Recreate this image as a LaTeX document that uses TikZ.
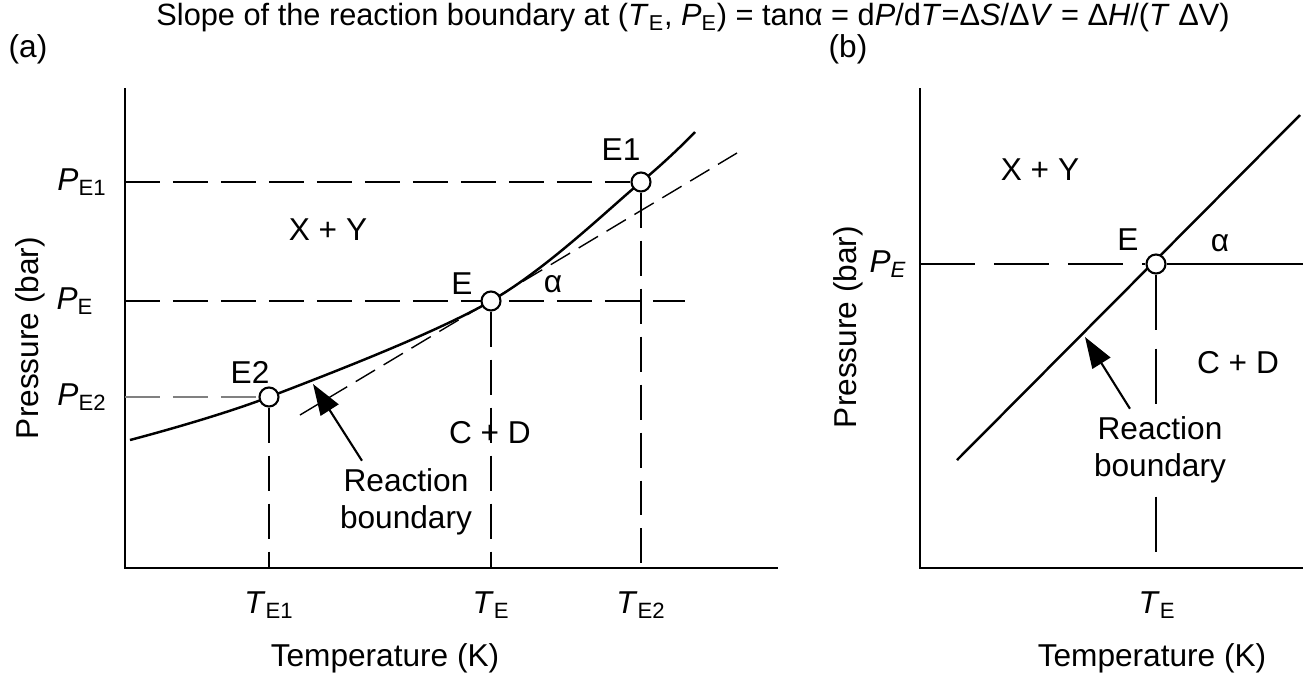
\documentclass[tikz,border=0pt]{standalone}
\usepackage{fontspec}
\setmainfont{Liberation Sans}
\usepackage{tikz}
\usetikzlibrary{arrows.meta,calc}

\begin{document}
\begin{tikzpicture}[
  x=0.02cm, y=-0.02cm,
  every node/.style={font=\fontsize{18}{21}\selectfont},
  axis/.style={line width=1.6pt},
  curve/.style={line width=1.4pt},
  guide/.style={line width=1.1pt, dash pattern=on 0.7cm off 0.26cm},
  guideB/.style={line width=1.1pt, dash pattern=on 1.1cm off 0.38cm},
  tangent/.style={line width=0.8pt, dash pattern=on 0.45cm off 0.2cm},
  pt/.style={circle, draw, fill=white, line width=1.2pt, minimum size=0.38cm,
    inner sep=0pt},
  pointer/.style={-{Triangle[length=0.62cm, width=0.42cm]}, line width=1.2pt},
]
  \useasboundingbox (0,0) rectangle (1303,674);
  % Title
  \node[inner sep=0pt, font=\fontsize{17.5}{20}\selectfont] (title) at (693,18)
    {Slope of the reaction boundary at
    (\textit{T}\textsubscript{E}, \textit{P}\textsubscript{E}) = tanα =
    d\textit{P}/d\textit{T}=Δ\textit{S}/Δ\textit{V} =
    Δ\textit{H}/(\textit{T} ΔV)};
  \node[inner sep=0pt] (lblA) at (28,49) {(a)};
  \node[inner sep=0pt] (lblB) at (848,49) {(b)};

  % Panel (a)
  \draw[axis] (125,88) -- (125,568) -- (778,568);
  \draw[tangent] (300,415) -- (737,153);
  \draw[guide] (125,301) -- (685,301);
  \draw[curve] plot[smooth, tension=0.55] coordinates
    {(130,440) (269,397) (491,301) (641,182) (695,132)};
  \node[pt] (E1) at (641,182) {};
  \node[pt] (E) at (491,301) {};
  \node[pt] (E2) at (269,397) {};
  \draw[guide] (125,182) -- (E1);
  \draw[guide, gray] (125,397) -- (E2);
  \draw[guide] (E1) -- (641,568);
  \draw[guide] (E) -- (491,568);
  \draw[guide] (E2) -- (269,568);
  \node at (621,150) {E1};
  \node at (462,284) {E};
  \node at (250,372) {E2};
  \node at (553,284) {α};
  \node at (328,230) {X + Y};
  \node at (490,433) {C + D};
  \node (PE1) at (82,182) {\textit{P}\textsubscript{E1}};
  \node (PE) at (75,301) {\textit{P}\textsubscript{E}};
  \node (PE2) at (82,397) {\textit{P}\textsubscript{E2}};
  \node (TE1) at (269,605) {\textit{T}\textsubscript{E1}};
  \node (TE) at (491,605) {\textit{T}\textsubscript{E}};
  \node (TE2) at (641,605) {\textit{T}\textsubscript{E2}};
  \node (xlabA) at (385,658) {Temperature (K)};
  \node[rotate=90] (ylabA) at (30,338) {Pressure (bar)};
  \node[align=center, inner sep=1pt] (rbA) at (406,502) {Reaction\\boundary};
  \coordinate (tipA) at (313,384);
  \draw[pointer] ($(rbA.north west)+(24,-6)$) -- (tipA);

  % Panel (b)
  \draw[axis] (920,88) -- (920,568) -- (1303,568);
  \draw[curve] (957,460) -- (1300,115);
  \node[pt] (Eb) at (1156,264) {};
  \draw[guideB] (920,264) -- (Eb);
  \draw[line width=1.1pt] (Eb) -- (1303,264);
  \draw[guideB] (Eb) -- (1156,568);
  \node at (1128,240) {E};
  \node at (1220,243) {α};
  \node at (1040,170) {X + Y};
  \node at (1238,363) {C + D};
  \node (PEb) at (888,264) {\textit{P}\textsubscript{\textit{E}}};
  \node (TEb) at (1157,605) {\textit{T}\textsubscript{E}};
  \node (xlabB) at (1152,658) {Temperature (K)};
  \node[rotate=90] (ylabB) at (848,327) {Pressure (bar)};
  \node[align=center, fill=white, inner sep=1pt] (rbB) at (1160,450)
    {Reaction\\boundary};
  \coordinate (tipB) at (1085,337);
  \draw[pointer] ($(rbB.north west)+(38,-6)$) -- (tipB);
\end{tikzpicture}
\end{document}
